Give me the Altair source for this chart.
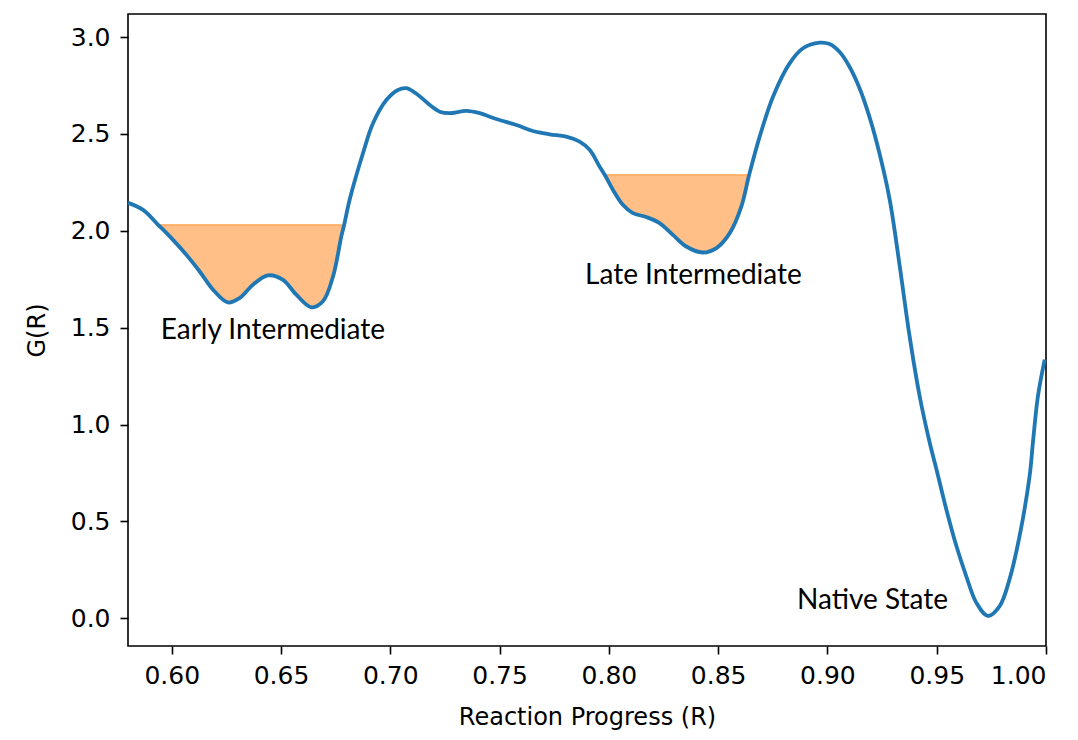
import altair as alt
import pandas as pd

# Free-energy profile
R = [0.5800, 0.5869, 0.5938, 0.5991, 0.6067, 0.6128, 0.6189, 0.6257, 0.6311, 0.6372,
     0.6440, 0.6509, 0.6570, 0.6639, 0.6692, 0.6738, 0.6776, 0.6789, 0.6814, 0.6875,
     0.6921, 0.6982, 0.7035, 0.7074, 0.7127, 0.7181, 0.7226, 0.7272, 0.7348, 0.7409,
     0.7485, 0.7577, 0.7653, 0.7729, 0.7805, 0.7866, 0.7912, 0.7958, 0.7981, 0.8019,
     0.8064, 0.8110, 0.8171, 0.8232, 0.8293, 0.8354, 0.8430, 0.8492, 0.8553, 0.8606,
     0.8642, 0.8690, 0.8751, 0.8827, 0.8888, 0.8964, 0.9010, 0.9055, 0.9101, 0.9147,
     0.9192, 0.9238, 0.9285, 0.9331, 0.9376, 0.9422, 0.9468, 0.9499, 0.9544, 0.9590,
     0.9635, 0.9681, 0.9734, 0.9788, 0.9833, 0.9879, 0.9925, 0.9940, 0.9963, 0.9994]
G = [2.144, 2.108, 2.031, 1.971, 1.876, 1.790, 1.696, 1.630, 1.653, 1.722,
     1.770, 1.747, 1.670, 1.605, 1.636, 1.764, 1.971, 2.031, 2.160, 2.400,
     2.555, 2.675, 2.727, 2.736, 2.701, 2.649, 2.615, 2.607, 2.619, 2.607,
     2.577, 2.546, 2.515, 2.498, 2.486, 2.460, 2.418, 2.331, 2.289, 2.211,
     2.134, 2.091, 2.071, 2.040, 1.979, 1.919, 1.888, 1.911, 1.988, 2.125,
     2.289, 2.486, 2.692, 2.864, 2.942, 2.971, 2.964, 2.924, 2.847, 2.736,
     2.589, 2.400, 2.160, 1.816, 1.455, 1.146, 0.906, 0.768, 0.562, 0.373,
     0.218, 0.081, 0.012, 0.063, 0.201, 0.424, 0.734, 0.906, 1.146, 1.335]

# Shaded wells
fill_names = ["Early", "Late"]
fill_start = [0.5938, 0.7981]
fill_end = [0.6789, 0.8642]
fill_level = [2.031, 2.289]

# Annotations
label_text = ["Early Intermediate", "Late Intermediate", "Native State"]
label_R = [0.6463, 0.8387, 0.9206]
label_G = [1.442, 1.727, 0.046]

x_ticks = [0.60, 0.65, 0.70, 0.75, 0.80, 0.85, 0.90, 0.95, 1.00]
y_ticks = [0.0, 0.5, 1.0, 1.5, 2.0, 2.5, 3.0]

curve = pd.DataFrame({"R": R, "G": G})
rows = []
for name, s, e, lv in zip(fill_names, fill_start, fill_end, fill_level):
    for r, g in zip(R, G):
        if s - 1e-9 <= r <= e + 1e-9:
            rows.append({"band": name, "R": r, "G": g, "level": lv})
fills = pd.DataFrame(rows)
labels = pd.DataFrame({"text": label_text, "R": label_R, "G": label_G})

W, H = 918, 632
xs = alt.Scale(domain=[0.58, 1.0], nice=False, zero=False)
ys = alt.Scale(domain=[-0.143, 3.119], nice=False, zero=False)

x_axis = alt.Axis(values=x_ticks, format=".2f", title="Reaction Progress (R)",
                  titleX=W / 2, titleY=78, titleAlign="center", titleBaseline="alphabetic",
                  labelPadding=9)
y_axis = alt.Axis(values=y_ticks, format=".1f", title="G(R)",
                  titleX=-91, titleY=H / 2, titleAlign="center", titleBaseline="middle",
                  titleAngle=270, labelPadding=10)

area = alt.Chart(fills).mark_area(
    interpolate="catmull-rom", color="#ff7f0e", fillOpacity=0.5,
    stroke="#ff7f0e", strokeOpacity=0.5, strokeWidth=1.5
).encode(
    x=alt.X("R:Q", scale=xs, axis=x_axis),
    y=alt.Y("G:Q", scale=ys, axis=y_axis),
    y2="level:Q",
    detail="band:N",
)

line = alt.Chart(curve).mark_line(
    interpolate="catmull-rom", color="#1f77b4", strokeWidth=3.8
).encode(
    x=alt.X("R:Q", scale=xs),
    y=alt.Y("G:Q", scale=ys),
)

text = alt.Chart(labels).mark_text(
    font="Lato", fontSize=28, align="center", baseline="alphabetic", color="black"
).encode(
    x=alt.X("R:Q", scale=xs),
    y=alt.Y("G:Q", scale=ys),
    text="text:N",
)

chart = alt.layer(area, line, text).properties(
    width=W, height=H,
    autosize=alt.AutoSizeParams(type="none"),
    padding={"left": 120, "top": 6, "right": 20, "bottom": 86},
    background="white",
).configure_view(
    stroke="black", strokeWidth=1.6
).configure_axis(
    domain=False, grid=False, ticks=True, tickColor="black", tickWidth=1.6, tickSize=8,
    labelFont="DejaVu Sans", labelFontSize=25, labelColor="black",
    titleFont="DejaVu Sans", titleFontSize=24, titleColor="black", titleFontWeight="normal",
)

chart.save("out.html", embed_options={"renderer": "svg", "actions": False})
